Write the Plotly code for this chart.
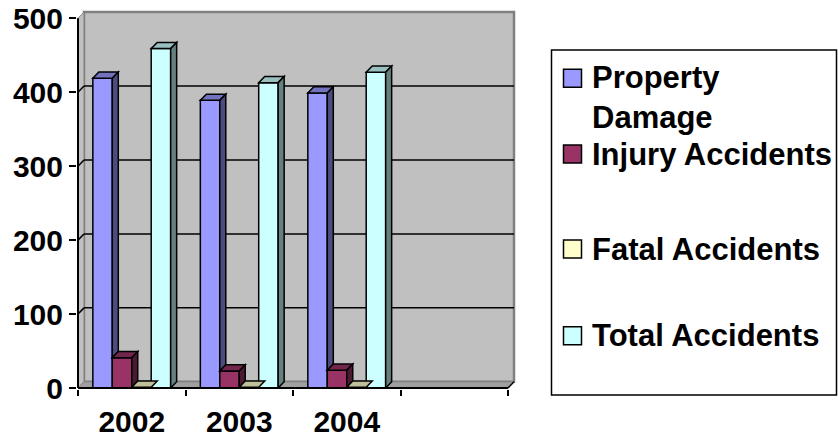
import plotly.graph_objects as go

# ---------------- data ----------------
YEARS = ["2002", "2003", "2004"]
CATEGORIES = YEARS + [" "]
SERIES = ["Property<br>Damage", "Injury Accidents", "Fatal Accidents", "Total Accidents"]
PROPERTY = [419, 389, 399]
INJURY = [41, 23, 24]
FATAL = [1, 1, 1]
TOTAL = [459, 413, 427]
VALUES = [PROPERTY, INJURY, FATAL, TOTAL]
Y_TICKS = [0, 100, 200, 300, 400, 500]
COLORS = ["#9999FF", "#993366", "#FFFFCC", "#CCFFFF"]

# ---------------- geometry / style ----------------
W, H = 838, 439
ML, MT = 77, 10
PW, PH = 439, 379
MR = W - ML - PW
MB = H - MT - PH
XS = 107.5          # px per category
YS = 0.7394         # px per value unit
X_LO = -0.5 - 1 / XS
X_HI = X_LO + PW / XS
Y_LO = -1 / YS
Y_HI = Y_LO + PH / YS
DX = 6 / XS         # 3D depth offset (x units)
DY = 6.2 / YS       # 3D depth offset (y units)
BAR_W = 0.181
OFFSETS = [-0.362 + k * BAR_W for k in range(4)]
FONT = "Liberation Sans, Arial, sans-serif"
YMAX = Y_TICKS[-1]
NCAT = len(CATEGORIES)


def shade(hexc, f):
    r, g, b = int(hexc[1:3], 16), int(hexc[3:5], 16), int(hexc[5:7], 16)
    return f"rgb({int(r * f)},{int(g * f)},{int(b * f)})"


def poly(pts, fill, line="black", width=1.5, layer="above"):
    path = "M " + " L ".join(f"{x:.5f},{y:.5f}" for x, y in pts) + " Z"
    return dict(type="path", xref="x", yref="y", path=path, fillcolor=fill,
                line=dict(color=line, width=width), layer=layer)


def seg(p0, p1, color="black", width=1.5, layer="below"):
    return dict(type="line", xref="x", yref="y", x0=p0[0], y0=p0[1], x1=p1[0], y1=p1[1],
                line=dict(color=color, width=width), layer=layer)


def px_x(px):
    return (px - ML) / PW


def px_y(py):
    return (MT + PH - py) / PH


fig = go.Figure()

for s, (name, vals, col) in enumerate(zip(SERIES, VALUES, COLORS)):
    fig.add_bar(x=YEARS, y=vals, name=name, width=BAR_W, offset=OFFSETS[s],
                marker=dict(color=col, line=dict(color="black", width=1.5)),
                showlegend=False, hoverinfo="x+y+name")

shapes = []
xl, xr = -0.5, NCAT - 0.5
# back wall, left wall, floor
shapes.append(dict(type="rect", xref="x", yref="y", x0=xl + DX, x1=xr + DX, y0=DY, y1=YMAX + DY,
                   fillcolor="#C0C0C0", line=dict(color="#808080", width=2.5), layer="below"))
shapes.append(poly([(xl, 0), (xl + DX, DY), (xl + DX, YMAX + DY), (xl, YMAX)],
                   "#C0C0C0", line="#808080", width=1, layer="below"))
shapes.append(poly([(xl, 0), (xr, 0), (xr + DX, DY), (xl + DX, DY)],
                   "#A0A0A0", line="#808080", width=1, layer="below"))
# gridlines on the walls
for v in Y_TICKS[1:-1]:
    shapes.append(seg((xl + DX, v + DY), (xr + DX, v + DY)))
    shapes.append(seg((xl, v), (xl + DX, v + DY)))

# 3D faces of the bars
for i in range(len(YEARS)):
    for s in range(len(SERIES)):
        v = VALUES[s][i]
        l = i + OFFSETS[s]
        r = l + BAR_W
        shapes.append(poly([(l, v), (r, v), (r + DX, v + DY), (l + DX, v + DY)], shade(COLORS[s], 0.75)))
        base = VALUES[s + 1][i] if s < len(SERIES) - 1 else 0
        if base < v:
            shapes.append(poly([(r, base), (r + DX, base + DY), (r + DX, v + DY), (r, v)], shade(COLORS[s], 0.5)))

# axis lines
shapes.append(seg((xl, 0), (xl, YMAX), width=2, layer="above"))
shapes.append(seg((xl, 0), (xr, 0), width=2, layer="above"))
shapes.append(seg((xr, 0), (xr + DX, DY), width=1.5, layer="above"))

# custom legend (Excel style), positions in reference pixels
LEG_BOX = (551.5, 50, 836.5, 395)
LEG_TEXT_Y = [97.0, 154, 249, 335.7]
LEG_MARK_Y = [78.3, 154, 249, 335.7]
shapes.append(dict(type="rect", xref="paper", yref="paper",
                   x0=px_x(LEG_BOX[0]), x1=px_x(LEG_BOX[2]), y0=px_y(LEG_BOX[3]), y1=px_y(LEG_BOX[1]),
                   fillcolor="white", line=dict(color="black", width=1.5), layer="above"))
annotations = []
for s, name in enumerate(SERIES):
    my = LEG_MARK_Y[s]
    shapes.append(dict(type="rect", xref="paper", yref="paper",
                       x0=px_x(563.5), x1=px_x(581.5), y0=px_y(my + 9), y1=px_y(my - 9),
                       fillcolor=COLORS[s], line=dict(color="black", width=1.5), layer="above"))
    annotations.append(dict(xref="paper", yref="paper", x=px_x(590), y=px_y(LEG_TEXT_Y[s]),
                            xanchor="left", yanchor="middle", align="left", showarrow=False,
                            text=name, font=dict(family=FONT, size=31, color="black", weight="bold")))

tickfont = dict(family=FONT, size=30, color="black", weight="bold")
fig.update_layout(
    width=W, height=H, margin=dict(l=ML, r=MR, t=MT, b=MB, pad=0, autoexpand=False),
    paper_bgcolor="white", plot_bgcolor="white",
    barmode="overlay", showlegend=False,
    shapes=shapes, annotations=annotations,
    xaxis=dict(type="category", categoryorder="array", categoryarray=CATEGORIES,
               range=[X_LO, X_HI], tickson="boundaries", ticks="outside", ticklen=6,
               tickwidth=2, tickcolor="black", showline=False, showgrid=False, zeroline=False,
               tickfont=tickfont, fixedrange=True, automargin=False, ticklabelstandoff=12,
               ticklabeloverflow="allow"),
    yaxis=dict(range=[Y_LO, Y_HI], tickvals=Y_TICKS, ticks="outside", ticklen=7,
               tickwidth=2, tickcolor="black", showline=False, showgrid=False, zeroline=False,
               tickfont=tickfont, fixedrange=True, automargin=False, ticklabeloverflow="allow"),
)

# remove the browser's default page margin so the figure fills the window exactly
fig.write_html("out.html", config={"displayModeBar": False},
               post_script="document.body.style.margin='0px';")
